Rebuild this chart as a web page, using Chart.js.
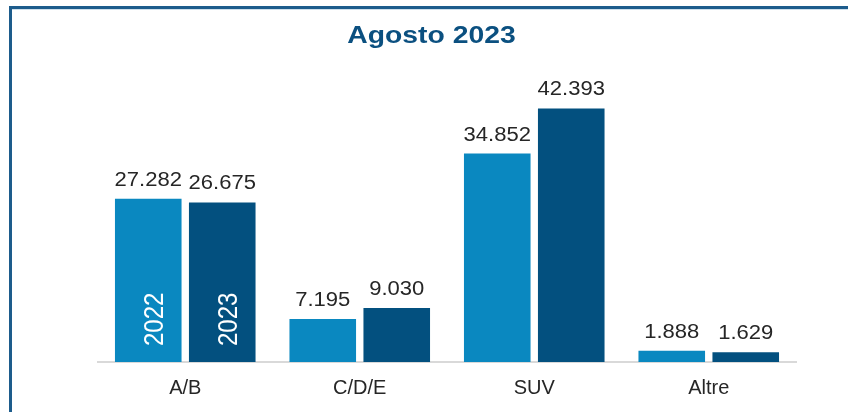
<!DOCTYPE html>
<html>
<head>
<meta charset="utf-8">
<script src="https://cdn.jsdelivr.net/npm/chart.js@4/dist/chart.umd.min.js"></script>
<style>
  html, body { margin: 0; padding: 0; background: #ffffff; }
  #wrap { width: 848px; height: 412px; position: relative; }
</style>
</head>
<body>
<div id="wrap"><canvas id="c" width="848" height="412"></canvas></div>
<script>
const titleText = 'Agosto 2023';
const categories = ['A/B', 'C/D/E', 'SUV', 'Altre'];
const seriesNames = ['2022', '2023'];
const values2022 = [27282, 7195, 34852, 1888];
const values2023 = [26675, 9030, 42393, 1629];
const seriesColors = ['#0a88c0', '#03507f'];

const STRETCH = 1.18;
const FONT = '"Liberation Sans", Arial, sans-serif';

function fmt(v) {
  return String(v).replace(/\B(?=(\d{3})+(?!\d))/g, '.');
}

function stretchedText(ctx, text, x, y, font, color, sx) {
  ctx.save();
  ctx.font = font;
  ctx.fillStyle = color;
  ctx.textAlign = 'center';
  ctx.textBaseline = 'alphabetic';
  ctx.translate(x, y);
  ctx.scale(sx, 1);
  ctx.fillText(text, 0, 0);
  ctx.restore();
}

const framePlugin = {
  id: 'frame',
  beforeDraw(chart) {
    const ctx = chart.ctx;
    ctx.save();
    ctx.fillStyle = '#ffffff';
    ctx.fillRect(0, 0, chart.width, chart.height);
    ctx.fillStyle = '#1d5c8c';
    ctx.fillRect(9, 6, chart.width - 9, 3);
    ctx.fillRect(9, 6, 3, chart.height - 6);
    ctx.fillStyle = '#cfe0ec';
    ctx.fillRect(12, 9, chart.width - 12, 1);
    ctx.restore();
  },
  afterDraw(chart) {
    stretchedText(chart.ctx, titleText, 431.5, 43, 'bold 24px ' + FONT, '#0b5080', STRETCH);
  }
};

const labelPlugin = {
  id: 'barLabels',
  afterDatasetsDraw(chart) {
    const ctx = chart.ctx;
    chart.data.datasets.forEach((ds, i) => {
      const meta = chart.getDatasetMeta(i);
      meta.data.forEach((bar, j) => {
        stretchedText(ctx, fmt(ds.data[j]), bar.x, bar.y - 13, '19.5px ' + FONT, '#262626', 1.13);
      });
      const b = meta.data[0];
      ctx.save();
      ctx.font = '24px ' + FONT;
      ctx.fillStyle = '#ffffff';
      ctx.textAlign = 'left';
      ctx.textBaseline = 'alphabetic';
      ctx.translate(b.x + 4.5, b.base - 16);
      ctx.rotate(-Math.PI / 2);
      ctx.scale(1, STRETCH);
      ctx.fillText(ds.label, 0, 8.6);
      ctx.restore();
    });
  }
};

new Chart(document.getElementById('c'), {
  type: 'bar',
  data: {
    labels: categories,
    datasets: [
      { label: seriesNames[0], data: values2022, backgroundColor: seriesColors[0], borderWidth: 0 },
      { label: seriesNames[1], data: values2023, backgroundColor: seriesColors[1], borderWidth: 0 }
    ]
  },
  options: {
    responsive: false,
    animation: false,
    devicePixelRatio: 1,
    categoryPercentage: 0.848,
    barPercentage: 0.9,
    layout: { padding: { left: 98, right: 52, top: 63, bottom: -3 } },
    plugins: {
      legend: { display: false },
      title: { display: false },
      tooltip: { enabled: false }
    },
    scales: {
      x: {
        grid: { display: false, drawTicks: false },
        border: { display: true, color: '#d9d9d9', width: 2 },
        ticks: { color: '#262626', font: { family: FONT, size: 20 }, padding: 14.5 }
      },
      y: {
        display: false,
        min: 0,
        max: 50000
      }
    }
  },
  plugins: [framePlugin, labelPlugin]
});
</script>
</body>
</html>
